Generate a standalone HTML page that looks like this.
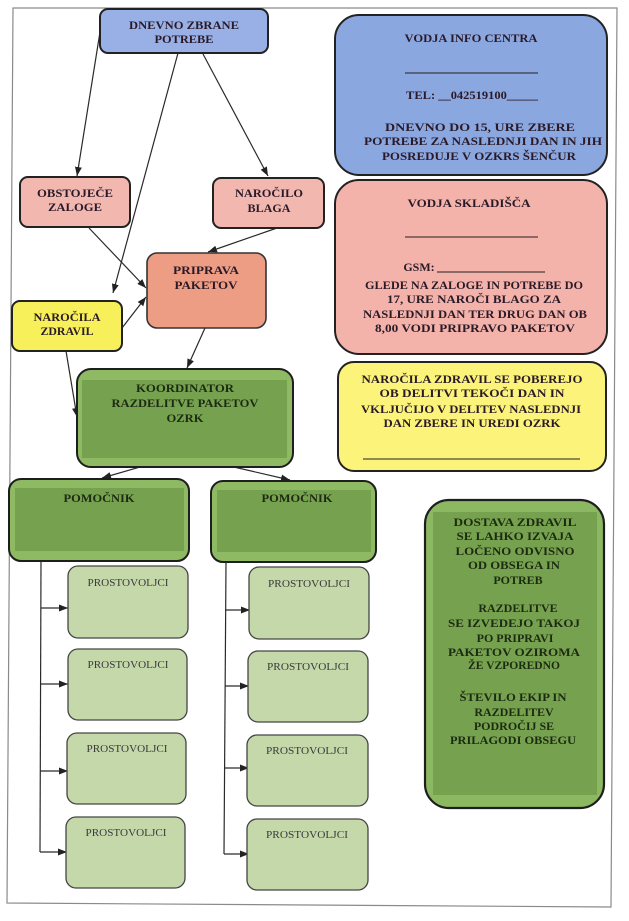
<!DOCTYPE html>
<html><head><meta charset="utf-8"><style>
html,body{margin:0;padding:0;background:#fff;}
svg{display:block;}
text{font-family:"Liberation Serif",serif;font-weight:bold;font-size:12px;text-anchor:middle;}
.d{fill:#2a1a28;}
.g{fill:#1c2a12;}
.p{font-weight:normal;font-size:11px;fill:#3a3a3a;}
</style></head><body>
<svg width="629" height="921" viewBox="0 0 629 921" xmlns="http://www.w3.org/2000/svg">
<defs>
<marker id="a" markerUnits="userSpaceOnUse" markerWidth="9" markerHeight="7" refX="9" refY="3.5" orient="auto">
<path d="M0,0 L9,3.5 L0,7 z" fill="#222"/>
</marker>
</defs>
<path d="M13,8 L617,8 L611,907 L7,903 Z" fill="none" stroke="#8a8a8a" stroke-width="1.2"/>

<g stroke="#2a2a2a" stroke-width="1.2" fill="none">
<path d="M100,32 L77,176" marker-end="url(#a)"/>
<path d="M178,53 L113,293" marker-end="url(#a)"/>
<path d="M203,54 L268,176" marker-end="url(#a)"/>
<path d="M89,228 L146,288" marker-end="url(#a)"/>
<path d="M277,228 L208,252" marker-end="url(#a)"/>
<path d="M122,328 L146,297" marker-end="url(#a)"/>
<path d="M205,328 L187,368" marker-end="url(#a)"/>
<path d="M66,351 L77,417" marker-end="url(#a)"/>
<path d="M175,457 L102,478" marker-end="url(#a)"/>
<path d="M212,462 L290,480" marker-end="url(#a)"/>
<path d="M41,561 L40,852"/>
<path d="M41,608 L68,608" marker-end="url(#a)"/>
<path d="M41,684 L68,684" marker-end="url(#a)"/>
<path d="M40,771 L68,771" marker-end="url(#a)"/>
<path d="M40,852 L67,852" marker-end="url(#a)"/>
<path d="M226,562 L224,854"/>
<path d="M226,610 L250,610" marker-end="url(#a)"/>
<path d="M225,686 L249,686" marker-end="url(#a)"/>
<path d="M225,768 L249,768" marker-end="url(#a)"/>
<path d="M224,854 L249,854" marker-end="url(#a)"/>
</g>

<rect x="100" y="9" width="168" height="44" rx="8" fill="#98b0e6" stroke="#222" stroke-width="2"/>
<text class="d" x="184" y="29" textLength="110" lengthAdjust="spacingAndGlyphs">DNEVNO ZBRANE</text>
<text class="d" x="184" y="43" textLength="59" lengthAdjust="spacingAndGlyphs">POTREBE</text>

<rect x="20" y="177" width="110" height="50" rx="8" fill="#f2b8b0" stroke="#222" stroke-width="2"/>
<text class="d" x="75" y="197" textLength="76" lengthAdjust="spacingAndGlyphs">OBSTOJEČE</text>
<text class="d" x="75" y="211" textLength="54" lengthAdjust="spacingAndGlyphs">ZALOGE</text>

<rect x="213" y="178" width="111" height="50" rx="8" fill="#f2b8b0" stroke="#222" stroke-width="2"/>
<text class="d" x="269" y="197" textLength="68" lengthAdjust="spacingAndGlyphs">NAROČILO</text>
<text class="d" x="269" y="212" textLength="43" lengthAdjust="spacingAndGlyphs">BLAGA</text>

<rect x="147" y="253" width="119" height="75" rx="10" fill="#ee9d85" stroke="#333" stroke-width="1.6"/>
<text class="d" x="206" y="274" textLength="66" lengthAdjust="spacingAndGlyphs">PRIPRAVA</text>
<text class="d" x="206" y="289" textLength="63" lengthAdjust="spacingAndGlyphs">PAKETOV</text>

<rect x="12" y="301" width="110" height="50" rx="8" fill="#f8f05a" stroke="#222" stroke-width="2"/>
<text class="d" x="67" y="321" textLength="67" lengthAdjust="spacingAndGlyphs">NAROČILA</text>
<text class="d" x="67" y="335" textLength="53" lengthAdjust="spacingAndGlyphs">ZDRAVIL</text>

<rect x="77" y="369" width="216" height="98" rx="14" fill="#8fba64"/>
<rect x="82" y="380" width="205" height="78" fill="#76a24f"/>
<rect x="77" y="369" width="216" height="98" rx="14" fill="none" stroke="#1e1e1e" stroke-width="2"/>
<text class="g" x="185" y="392" textLength="98" lengthAdjust="spacingAndGlyphs">KOORDINATOR</text>
<text class="g" x="185" y="407" textLength="147" lengthAdjust="spacingAndGlyphs">RAZDELITVE PAKETOV</text>
<text class="g" x="185" y="422" textLength="37" lengthAdjust="spacingAndGlyphs">OZRK</text>

<rect x="9" y="479" width="180" height="82" rx="12" fill="#8fba64"/>
<rect x="15" y="488" width="169" height="63" fill="#76a24f"/>
<rect x="9" y="479" width="180" height="82" rx="12" fill="none" stroke="#1e1e1e" stroke-width="2"/>
<text class="g" x="99" y="502" textLength="71" lengthAdjust="spacingAndGlyphs">POMOČNIK</text>

<rect x="211" y="481" width="165" height="81" rx="12" fill="#8fba64"/>
<rect x="217" y="490" width="154" height="62" fill="#76a24f"/>
<rect x="211" y="481" width="165" height="81" rx="12" fill="none" stroke="#1e1e1e" stroke-width="2"/>
<text class="g" x="297" y="502" textLength="71" lengthAdjust="spacingAndGlyphs">POMOČNIK</text>

<g fill="#c5d8aa" stroke="#444" stroke-width="1.3">
<rect x="68" y="566" width="120" height="72" rx="10"/>
<rect x="68" y="649" width="119" height="71" rx="10"/>
<rect x="67" y="733" width="119" height="71" rx="10"/>
<rect x="66" y="817" width="119" height="71" rx="10"/>
<rect x="249" y="567" width="120" height="72" rx="10"/>
<rect x="248" y="651" width="120" height="71" rx="10"/>
<rect x="247" y="735" width="121" height="71" rx="10"/>
<rect x="247" y="819" width="121" height="71" rx="10"/>
</g>
<text class="p" x="128" y="586" textLength="81" lengthAdjust="spacingAndGlyphs">PROSTOVOLJCI</text>
<text class="p" x="128" y="668" textLength="81" lengthAdjust="spacingAndGlyphs">PROSTOVOLJCI</text>
<text class="p" x="127" y="752" textLength="81" lengthAdjust="spacingAndGlyphs">PROSTOVOLJCI</text>
<text class="p" x="126" y="836" textLength="81" lengthAdjust="spacingAndGlyphs">PROSTOVOLJCI</text>
<text class="p" x="309" y="587" textLength="82" lengthAdjust="spacingAndGlyphs">PROSTOVOLJCI</text>
<text class="p" x="308" y="670" textLength="82" lengthAdjust="spacingAndGlyphs">PROSTOVOLJCI</text>
<text class="p" x="307" y="754" textLength="82" lengthAdjust="spacingAndGlyphs">PROSTOVOLJCI</text>
<text class="p" x="307" y="838" textLength="82" lengthAdjust="spacingAndGlyphs">PROSTOVOLJCI</text>

<rect x="335" y="15" width="272" height="160" rx="24" fill="#8ba7e0" stroke="#222" stroke-width="2"/>
<text class="d" x="471" y="42" textLength="133" lengthAdjust="spacingAndGlyphs">VODJA INFO CENTRA</text>
<line x1="405" y1="73" x2="538" y2="73" stroke="#222" stroke-width="1"/>
<text class="d" x="472" y="99" textLength="132" lengthAdjust="spacingAndGlyphs">TEL: __042519100_____</text>
<text class="d" x="480" y="131" textLength="190" lengthAdjust="spacingAndGlyphs">DNEVNO DO 15, URE ZBERE</text>
<text class="d" x="483" y="145" textLength="238" lengthAdjust="spacingAndGlyphs">POTREBE ZA NASLEDNJI DAN IN JIH</text>
<text class="d" x="479" y="160" textLength="194" lengthAdjust="spacingAndGlyphs">POSREDUJE V OZKRS ŠENČUR</text>

<rect x="335" y="180" width="272" height="174" rx="24" fill="#f4b3aa" stroke="#222" stroke-width="2"/>
<text class="d" x="469" y="207" textLength="123" lengthAdjust="spacingAndGlyphs">VODJA SKLADIŠČA</text>
<line x1="405" y1="237" x2="538" y2="237" stroke="#222" stroke-width="1"/>
<text class="d" x="419" y="271">GSM:</text>
<line x1="437" y1="272" x2="545" y2="272" stroke="#222" stroke-width="1"/>
<text class="d" x="474" y="289" textLength="218" lengthAdjust="spacingAndGlyphs">GLEDE NA ZALOGE IN POTREBE DO</text>
<text class="d" x="474" y="303" textLength="174" lengthAdjust="spacingAndGlyphs">17, URE NAROČI BLAGO ZA</text>
<text class="d" x="475" y="318" textLength="224" lengthAdjust="spacingAndGlyphs">NASLEDNJI DAN TER DRUG DAN OB</text>
<text class="d" x="475" y="332" textLength="200" lengthAdjust="spacingAndGlyphs">8,00 VODI PRIPRAVO PAKETOV</text>

<rect x="338" y="362" width="268" height="109" rx="16" fill="#fbf37a" stroke="#222" stroke-width="2"/>
<text class="d" x="472" y="383" textLength="221" lengthAdjust="spacingAndGlyphs">NAROČILA ZDRAVIL SE POBEREJO</text>
<text class="d" x="472" y="397" textLength="185" lengthAdjust="spacingAndGlyphs">OB DELITVI TEKOČI DAN IN</text>
<text class="d" x="471" y="413" textLength="220" lengthAdjust="spacingAndGlyphs">VKLJUČIJO V DELITEV NASLEDNJI</text>
<text class="d" x="472" y="427" textLength="177" lengthAdjust="spacingAndGlyphs">DAN  ZBERE IN UREDI OZRK</text>
<line x1="363" y1="459" x2="580" y2="459" stroke="#222" stroke-width="1"/>

<rect x="425" y="500" width="179" height="308" rx="24" fill="#8cb862"/>
<rect x="433" y="512" width="164" height="283" fill="#76a24f"/>
<rect x="425" y="500" width="179" height="308" rx="24" fill="none" stroke="#1e1e1e" stroke-width="2.2"/>
<text class="g" x="515" y="526" textLength="123" lengthAdjust="spacingAndGlyphs">DOSTAVA ZDRAVIL</text>
<text class="g" x="515" y="540" textLength="117" lengthAdjust="spacingAndGlyphs">SE LAHKO IZVAJA</text>
<text class="g" x="515" y="555" textLength="119" lengthAdjust="spacingAndGlyphs">LOČENO ODVISNO</text>
<text class="g" x="514" y="569" textLength="92" lengthAdjust="spacingAndGlyphs">OD OBSEGA IN</text>
<text class="g" x="518" y="584">POTREB</text>
<text class="g" x="518" y="612">RAZDELITVE</text>
<text class="g" x="514" y="627" textLength="132" lengthAdjust="spacingAndGlyphs">SE IZVEDEJO TAKOJ</text>
<text class="g" x="515" y="642">PO PRIPRAVI</text>
<text class="g" x="514" y="656" textLength="132" lengthAdjust="spacingAndGlyphs">PAKETOV OZIROMA</text>
<text class="g" x="514" y="669" textLength="92" lengthAdjust="spacingAndGlyphs">ŽE VZPOREDNO</text>
<text class="g" x="513" y="701" textLength="107" lengthAdjust="spacingAndGlyphs">ŠTEVILO EKIP IN</text>
<text class="g" x="514" y="716">RAZDELITEV</text>
<text class="g" x="514" y="730">PODROČIJ SE</text>
<text class="g" x="513" y="744" textLength="126" lengthAdjust="spacingAndGlyphs">PRILAGODI OBSEGU</text>
</svg>
</body></html>
